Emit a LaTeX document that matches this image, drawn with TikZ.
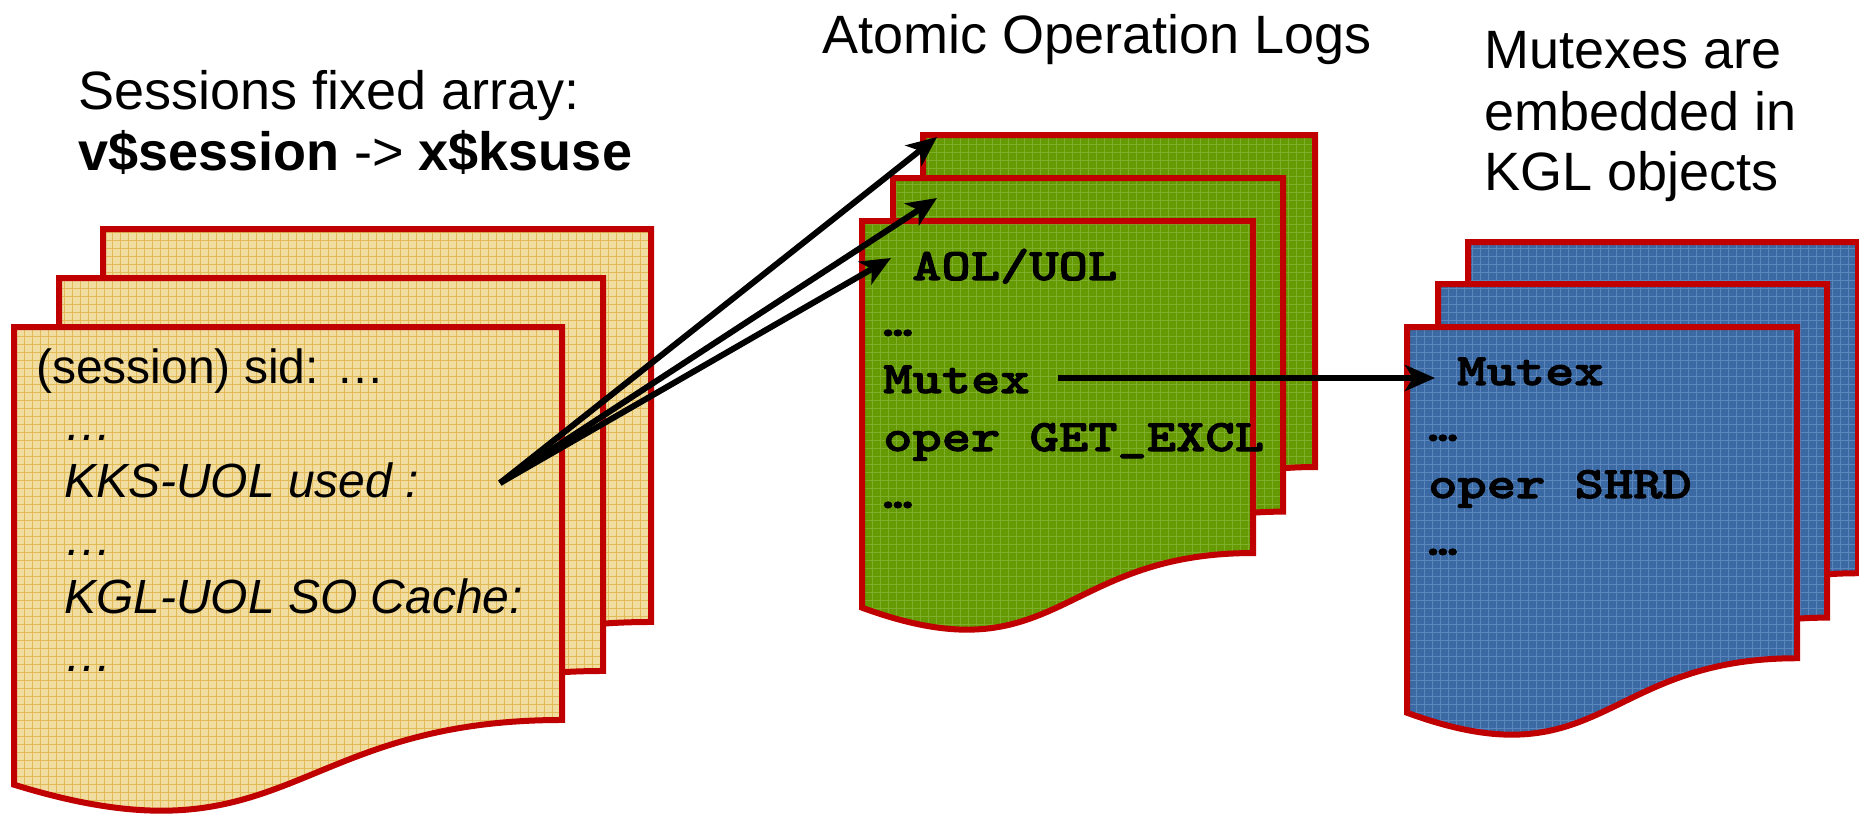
\documentclass[tikz,border=0pt]{standalone}
\usepackage{fontspec}
\setmainfont{Liberation Sans}
\newfontfamily\courlike{lmmonolt10-bold.otf}[FakeStretch=1.24,FakeBold=2.2]
\usetikzlibrary{arrows.meta}
\definecolor{docred}{HTML}{C00000}
\definecolor{yelbase}{HTML}{F2DDA0}
\definecolor{yelgrid}{HTML}{E2BA58}
\definecolor{grnbase}{HTML}{659A02}
\definecolor{grngrid}{HTML}{7DAE2C}
\definecolor{blubase}{HTML}{3A69A3}
\definecolor{blugrid}{HTML}{5A86BC}
\newcommand\mydocpath[4]{(#1,#2) -- ({#1+#3},#2) -- ({#1+#3},{#2+0.802*#4}) .. controls ({#1+0.5*#3},{#2+0.802*#4}) and ({#1+0.5*#3},{#2+1.107*#4}) .. (#1,{#2+0.934*#4}) -- cycle}
\newcommand\mydoc[6]{%
  \begin{scope}
    \clip \mydocpath{#1}{#2}{#3}{#4};
    \fill[#5] (#1,#2) rectangle ({#1+#3},{#2+1.2*#4});
    \draw[#6, line width=1pt, step=8pt] (#1,#2) grid ({#1+#3},{#2+1.2*#4});
  \end{scope}
  \draw[docborder] \mydocpath{#1}{#2}{#3}{#4};
}
\begin{document}
\begin{tikzpicture}[x=1pt,y=-1pt,
  docborder/.style={draw=docred, line width=6pt, line join=miter},
  conn/.style={draw=black, line width=6pt, -{Stealth[length=30pt,width=26pt,inset=8pt]}},
  ttxt/.style={anchor=base west, inner sep=0pt, font=\fontsize{54pt}{62pt}\selectfont},
  ytxt/.style={anchor=base west, inner sep=0pt, font=\fontsize{48pt}{56pt}\selectfont},
  yitxt/.style={ytxt, font=\fontsize{48pt}{56pt}\selectfont\itshape},
  mtxt/.style={anchor=base west, inner sep=0pt, font=\fontsize{45pt}{57pt}\selectfont\courlike}]
\useasboundingbox (0,0) rectangle (1859,816);
% yellow documents
\mydoc{103}{229}{548}{490}{yelbase}{yelgrid}
\mydoc{59}{278}{544}{490}{yelbase}{yelgrid}
\mydoc{14}{327}{548}{490}{yelbase}{yelgrid}
% green documents
\mydoc{923}{135}{392}{414}{grnbase}{grngrid}
\mydoc{893}{178}{390}{416}{grnbase}{grngrid}
\mydoc{862}{221}{391}{414}{grnbase}{grngrid}
% blue documents
\mydoc{1468}{242}{390}{413}{blubase}{blugrid}
\mydoc{1438}{284}{389}{416}{blubase}{blugrid}
\mydoc{1407}{327}{390}{413}{blubase}{blugrid}
% titles
\node[ttxt] (t1a) at (78,109) {Sessions fixed array:};
\node[ttxt] (t1b) at (78,170) {\textbf{v\$session} -> \textbf{x\$ksuse}};
\node[ttxt] (t2) at (822,53) {Atomic Operation Logs};
\node[ttxt] (t3a) at (1484,68) {Mutexes are};
\node[ttxt] (t3b) at (1484,130) {embedded in};
\node[ttxt] (t3c) at (1484,190) {KGL objects};
% yellow text
\node[ytxt] (y1) at (36,383) {(session) sid: …};
\node[yitxt] (y2) at (64,440) {…};
\node[yitxt] (y3) at (64,497) {KKS-UOL used :};
\node[yitxt] (y4) at (64,555) {…};
\node[yitxt] (y5) at (64,613) {KGL-UOL SO Cache:};
\node[yitxt] (y6) at (64,671) {…};
% green text
\node[mtxt] (g1) at (912,280) {AOL/UOL};
\node[mtxt] (g2) at (883,336) {…};
\node[mtxt] (g3) at (883,393) {Mutex};
\node[mtxt] (g4) at (883,451) {oper GET\_EXCL};
\node[mtxt] (g5) at (883,508) {…};
% blue text
\node[mtxt] (b1) at (1457,385) {Mutex};
\node[mtxt] (b2) at (1428,441) {…};
\node[mtxt] (b3) at (1428,498) {oper SHRD};
\node[mtxt] (b4) at (1428,555) {…};
% connectors
\coordinate (src) at (500,483);
\coordinate (aol3) at (937,137);
\coordinate (aol2) at (937,198);
\coordinate (aol1) at (891,258);
\coordinate (mfrom) at (1058,378);
\coordinate (mto) at (1435,378);
\draw[conn] (src) -- (aol3);
\draw[conn] (src) -- (aol2);
\draw[conn] (src) -- (aol1);
\draw[conn] (mfrom) -- (mto);
\end{tikzpicture}
\end{document}
